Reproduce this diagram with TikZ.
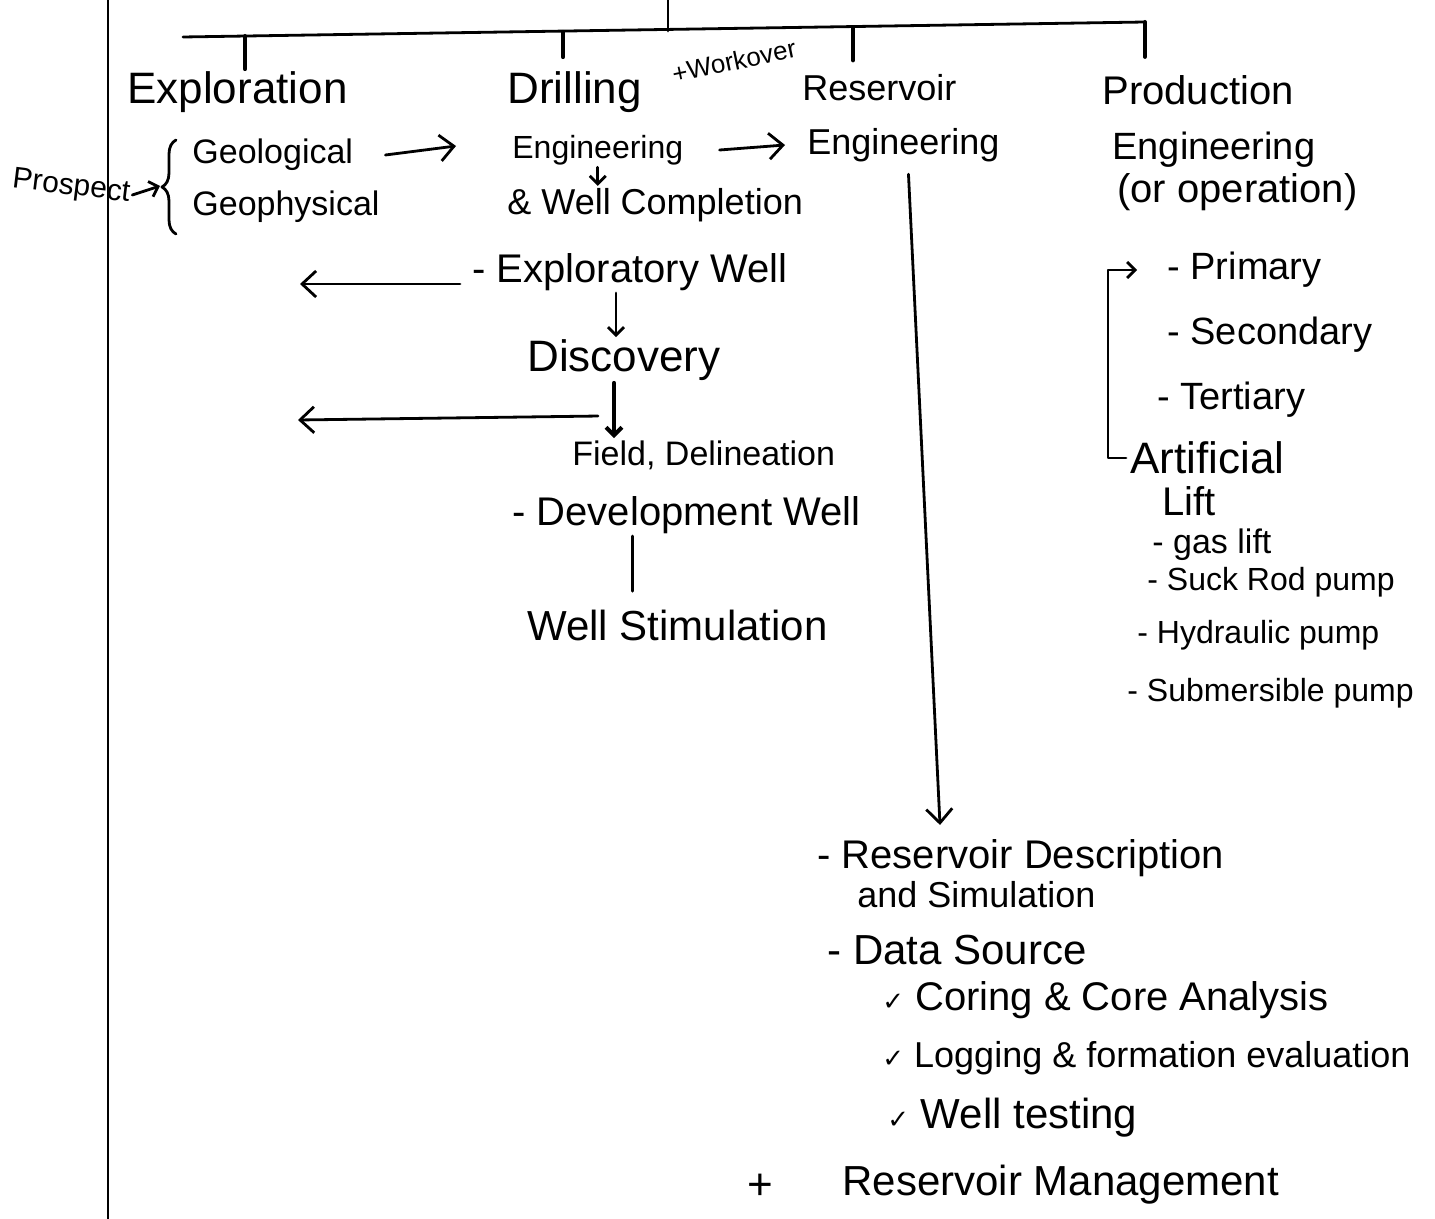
\documentclass[tikz,border=0pt]{standalone}
\usepackage{fontspec}
\setmainfont{Liberation Sans}
\newfontfamily\symfont{DejaVu Sans}
\usetikzlibrary{arrows.meta,decorations.pathreplacing}
\begin{document}
\begin{tikzpicture}[x=0.5pt,y=-0.5pt,
  ink/.style={line width=1.4pt, line cap=round, line join=round},
  arr/.style={ink,-{Straight Barb[length=7pt,width=13pt]}},
  sarr/.style={ink,-{Straight Barb[length=4pt,width=8pt]}},
  txt/.style={anchor=west,inner sep=1pt,font=\fontsize{#1}{#1}\selectfont},
  txt/.default=20]
\useasboundingbox (0,0) rectangle (1435,1219);

% frame lines
\coordinate (pageTop) at (108,0);
\coordinate (pageBot) at (108,1219);
\draw[ink,line width=1pt] (pageTop) -- (pageBot);

\coordinate (root) at (668,0);
\coordinate (hub) at (668,31);
\coordinate (barL) at (183,37);
\coordinate (barR) at (1145,22);
\coordinate (t1) at (245,36);
\coordinate (t2) at (563,32);
\coordinate (t3) at (853,28);
\coordinate (t4) at (1145,22);
\draw[ink] (root) -- (hub);
\draw[ink] (barL) -- (barR);

% column heads
\node[txt=22] (expl) at (125,92) {Exploration};
\node[txt=22] (drill) at (505,92) {Drilling};
\node[txt=13,rotate=12,inner sep=0pt] (work) at (672,74) {+Workover};
\node[txt=16] (drilleng) at (510,150) {Engineering};
\node[txt=18] (res) at (800,88) {Reservoir};
\node[txt=18] (reseng) at (805,145) {Engineering};
\node[txt=20] (prod) at (1100,90) {Production};
\node[txt=19] (prodeng) at (1110,150) {Engineering};
\node[txt=20] (prodop) at (1115,192) {(or operation)};

\draw[ink,line width=2pt] (t1) -- (t1 |- expl.north);
\draw[ink,line width=2pt,shorten >=6pt] (t2) -- (t2 |- drill.north);
\draw[ink,line width=2pt,shorten >=6pt] (t3) -- (t3 |- res.north);
\draw[ink,line width=2pt,shorten >=8pt] (t4) -- (t4 |- prod.north);

% exploration
\node[txt=15,rotate=-7] (prospect) at (10,180) {Prospect};
\node[txt=17] (geol) at (190,155) {Geological};
\node[txt=17] (geoph) at (190,207) {Geophysical};
\draw[ink,decorate,decoration={brace,amplitude=7pt}] (176,234) -- (176,140);
\coordinate (bracetip) at (160,186);
\draw[sarr] (prospect.east) -- (bracetip);
\draw[arr] ([xshift=15pt]geol.east) -- ([xshift=-27pt,yshift=2pt]drilleng.west);

% drilling
\draw[arr] ([xshift=17pt]drilleng.east) -- ([xshift=-10pt]reseng.west);
\node[txt=18] (welcomp) at (505,205) {\& Well Completion};
\draw[sarr] (drilleng.south) -- (drilleng.south |- welcomp.north);
\node[txt=20] (expw) at (470,272) {- Exploratory Well};
\coordinate (expTarget) at (300,284);
\draw[arr] ([xshift=-5pt,yshift=-6pt]expw.west) -- (expTarget);
\node[txt=22] (disc) at (525,360) {Discovery};
\draw[sarr] ([xshift=-4pt]expw.south -| disc.north) -- ([xshift=-4pt]disc.north);
\node[txt=17] (field) at (570,455) {Field, Delineation};
\draw[sarr,line width=2pt] ([xshift=-5pt]disc.south) -- ([xshift=-5pt]disc.south |- field.north);
\path ([xshift=-5pt]disc.south) -- ([xshift=-5pt]disc.south |- field.north) coordinate[pos=0.6] (fork);
\coordinate (delTarget) at (298,420);
\draw[arr] ([xshift=-8pt]fork) -- (delTarget);
\node[txt=20] (dev) at (510,515) {- Development Well};
\node[txt=21] (stim) at (525,625) {Well Stimulation};
\draw[ink,shorten >=8pt] ([xshift=-27pt]dev.south) -- ([xshift=-27pt]dev.south |- stim.north);

% production
\node[txt=19] (primary) at (1165,270) {- Primary};
\node[txt=19] (secondary) at (1165,335) {- Secondary};
\node[txt=19] (tertiary) at (1155,400) {- Tertiary};
\node[txt=22] (artif) at (1128,458) {Artificial};
\node[txt=20] (lift) at (1160,501) {Lift};
\node[txt=17] (gas) at (1150,545) {- gas lift};
\node[txt=16] (sucker) at (1145,582) {- Suck Rod pump};
\node[txt=16] (hyd) at (1135,635) {- Hydraulic pump};
\node[txt=16] (sub) at (1125,693) {- Submersible pump};
\draw[sarr] ([xshift=-1pt]artif.west) -- ++(-18,0) |- ([xshift=-14pt]primary.west);

% reservoir
\node[txt=20] (rdesc) at (815,858) {- Reservoir Description};
\node[txt=18] (rsim) at (855,895) {and Simulation};
\draw[arr] ([shift={(5,10)}]reseng.south) -- ([shift={(125,-12)}]rdesc.north west);
\node[txt=21] (data) at (825,950) {- Data Source};
\node[txt=20] (coring) at (880,1000) {{\symfont\fontsize{13}{13}\selectfont ✓}\ Coring \& Core Analysis};
\node[txt=18] (logging) at (880,1058) {{\symfont\fontsize{13}{13}\selectfont ✓}\ Logging \& formation evaluation};
\node[txt=21] (welltest) at (885,1118) {{\symfont\fontsize{13}{13}\selectfont ✓}\ Well testing};
\node[txt=22] (mark) at (745,1187) {+};
\node[txt=21] (mgmt) at (840,1185) {Reservoir Management};
\end{tikzpicture}
\end{document}
